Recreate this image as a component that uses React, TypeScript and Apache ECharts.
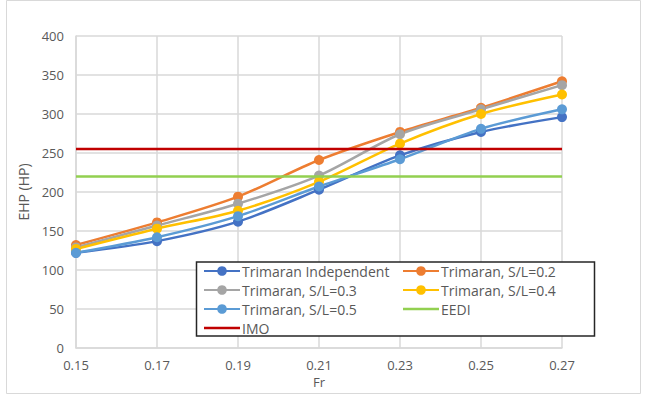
import React, { useEffect, useRef } from "react";
import * as echarts from "echarts";

const categories = ["0.15", "0.17", "0.19", "0.21", "0.23", "0.25", "0.27"];
const independent = [122, 137, 162, 203, 247, 277, 296];
const sl02 = [132, 161, 194, 241, 277, 308, 342];
const sl03 = [129, 157, 185, 221, 274, 306, 337];
const sl04 = [127, 153, 176, 213, 262, 300, 325];
const sl05 = [122, 142, 169, 207, 242, 281, 306];
const eedi = [220, 220, 220, 220, 220, 220, 220];
const imo = [255, 255, 255, 255, 255, 255, 255];

const FONT = "'Open Sans', 'Liberation Sans', sans-serif";
const TXT = "#595959";
const LINE_ICON = "path://M0 0H36V2.6H0Z";

export default function App() {
  const ref = useRef<HTMLDivElement>(null);
  useEffect(() => {
    document.body.style.margin = "0";
    const chart = echarts.init(ref.current!, null, { renderer: "svg" });
    const pt = (name: string, data: number[], color: string) => ({
      name,
      type: "line",
      data,
      smooth: 0.3,
      symbol: "circle",
      symbolSize: 10,
      lineStyle: { color, width: 2.5 },
      itemStyle: { color },
      z: 2,
    });
    const ln = (name: string, data: number[], color: string) => ({
      name,
      type: "line",
      data,
      symbol: "none",
      lineStyle: { color, width: 2.5 },
      itemStyle: { color },
      z: 3,
    });
    const legendCommon = {
      orient: "vertical",
      icon: "inherit",
      itemWidth: 36,
      itemHeight: 12,
      itemGap: 5,
      z: 20,
      symbolKeepAspect: true,
      textStyle: { fontFamily: FONT, fontSize: 14, color: TXT, padding: [0, 0, 0, -3] },
      padding: 0,
    };
    chart.setOption({
      animation: false,
      textStyle: { fontFamily: FONT },
      grid: { left: 76, right: 85, top: 36, bottom: 46 },
      xAxis: {
        type: "category",
        data: categories,
        boundaryGap: false,
        name: "Fr",
        nameLocation: "middle",
        nameGap: 22,
        nameTextStyle: { fontFamily: FONT, fontSize: 13, color: TXT },
        axisLine: { lineStyle: { color: "#D9D9D9", width: 1.5 } },
        axisTick: { show: false },
        axisLabel: { fontFamily: FONT, fontSize: 13, color: TXT, margin: 10 },
        splitLine: { show: true, lineStyle: { color: "#D9D9D9", width: 1.5 } },
      },
      yAxis: {
        type: "value",
        min: 0,
        max: 400,
        interval: 50,
        name: "EHP (HP)",
        nameLocation: "middle",
        nameGap: 45,
        nameTextStyle: { fontFamily: FONT, fontSize: 14, color: TXT },
        axisLine: { show: true, lineStyle: { color: "#D9D9D9", width: 1.5 } },
        axisTick: { show: false },
        axisLabel: { fontFamily: FONT, fontSize: 13, color: TXT, margin: 12 },
        splitLine: { lineStyle: { color: "#D9D9D9", width: 1.5 } },
      },
      legend: [
        {
          ...legendCommon,
          left: 203,
          top: 264,
          data: [
            "Trimaran Independent",
            "Trimaran, S/L=0.3",
            "Trimaran, S/L=0.5",
            { name: "IMO", icon: LINE_ICON },
          ],
        },
        {
          ...legendCommon,
          left: 402,
          top: 264,
          data: ["Trimaran, S/L=0.2", "Trimaran, S/L=0.4", { name: "EEDI", icon: LINE_ICON }],
        },
      ],
      graphic: [
        {
          type: "rect",
          shape: { x: 196.5, y: 262, width: 398, height: 74 },
          style: { fill: "#fff", stroke: "#262626", lineWidth: 1.5 },
          z: 5,
        },
        {
          type: "rect",
          shape: { x: 6.5, y: 0.5, width: 634, height: 393 },
          style: { fill: "none", stroke: "#D9D9D9", lineWidth: 1 },
        },
      ],
      series: [
        pt("Trimaran Independent", independent, "#4472C4"),
        pt("Trimaran, S/L=0.2", sl02, "#ED7D31"),
        pt("Trimaran, S/L=0.3", sl03, "#A5A5A5"),
        pt("Trimaran, S/L=0.4", sl04, "#FFC000"),
        pt("Trimaran, S/L=0.5", sl05, "#5B9BD5"),
        ln("EEDI", eedi, "#92D050"),
        ln("IMO", imo, "#C00000"),
      ],
    });
    return () => chart.dispose();
  }, []);
  return <div ref={ref} style={{ width: 647, height: 394 }} />;
}
